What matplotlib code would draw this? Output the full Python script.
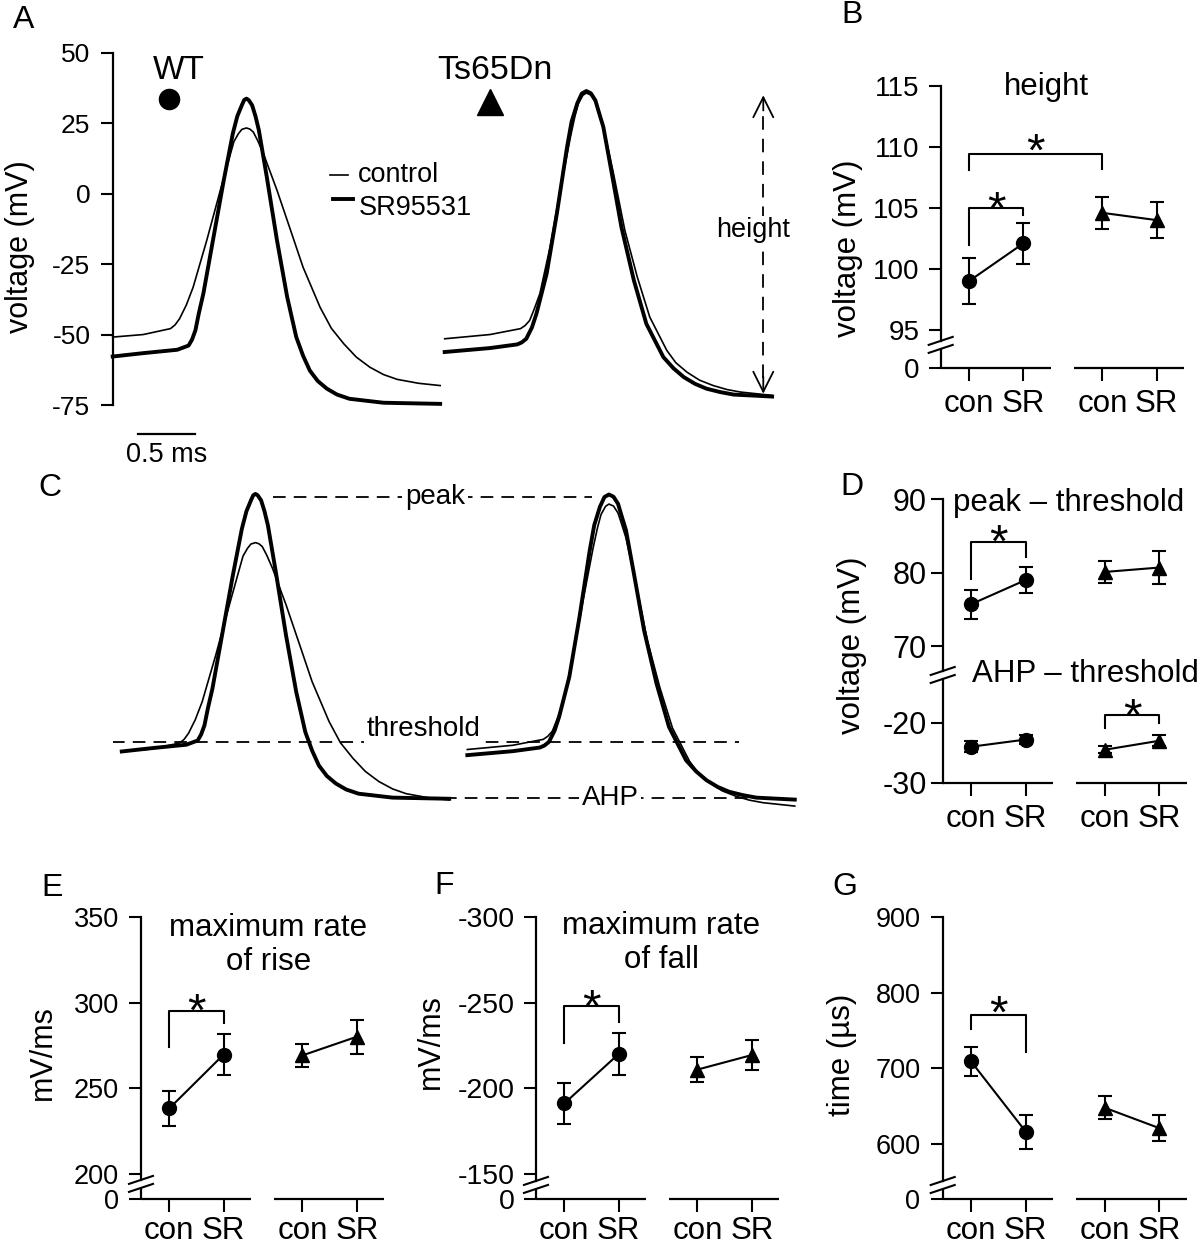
import matplotlib
matplotlib.use("Agg")
import matplotlib.pyplot as plt
from matplotlib.lines import Line2D
from matplotlib.transforms import IdentityTransform

plt.rcParams['font.family'] = ['Liberation Sans', 'DejaVu Sans']

W, H = 1200, 1245

# example action potentials (time in ms, voltage in mV)
wt_con_t = [0.0, 0.27, 0.51, 0.55, 0.59, 0.65, 0.71, 0.83, 0.95, 1.04, 1.07, 1.11, 1.14, 1.18,
            1.21, 1.24, 1.28, 1.33, 1.45, 1.57, 1.68, 1.83, 1.93, 2.04, 2.15, 2.27, 2.39, 2.51,
            2.70, 2.89]
wt_con_v = [-50.9, -50.0, -47.9, -46.6, -44.4, -39.5, -33.2, -16.6, 1.2, 14.2, 18.5, 21.3, 22.8,
            23.3, 22.9, 21.9, 18.8, 14.2, 1.2, -13.0, -26.1, -40.3, -47.8, -53.3, -58.0, -61.6,
            -64.2, -65.9, -67.3, -68.1]
wt_sr_t = [0.0, 0.27, 0.57, 0.67, 0.70, 0.73, 0.76, 0.80, 0.89, 0.98, 1.06, 1.10, 1.14, 1.16,
           1.18, 1.20, 1.23, 1.26, 1.29, 1.36, 1.45, 1.54, 1.62, 1.68, 1.74, 1.81, 1.89, 1.98,
           2.09, 2.39, 2.89]
wt_sr_v = [-57.8, -56.6, -55.4, -53.9, -51.8, -48.5, -42.5, -35.5, -15.4, 4.7, 21.3, 27.5, 31.4,
           33.2, 33.7, 33.2, 31.4, 27.5, 22.5, 5.9, -16.6, -36.7, -50.9, -57.5, -62.8, -66.5,
           -69.2, -71.3, -72.8, -74.2, -74.6]
ts_con_t = [2.93, 3.33, 3.60, 3.64, 3.68, 3.72, 3.77, 3.86, 3.95, 4.04, 4.08, 4.11, 4.15, 4.18,
            4.22, 4.26, 4.29, 4.33, 4.42, 4.52, 4.63, 4.74, 4.89, 4.97, 5.07, 5.18, 5.30, 5.42,
            5.54, 5.82]
ts_con_v = [-51.5, -50.0, -47.9, -46.8, -45.0, -41.0, -35.5, -19.0, 1.2, 20.1, 27.5, 32.0, 34.9,
            35.7, 35.0, 32.5, 28.8, 23.7, 7.1, -13.0, -29.6, -43.8, -55.6, -60.0, -63.4, -66.2,
            -68.1, -69.5, -70.4, -71.6]
ts_sr_t = [2.93, 3.33, 3.57, 3.61, 3.65, 3.70, 3.74, 3.83, 3.92, 4.01, 4.05, 4.10, 4.14, 4.18,
           4.22, 4.26, 4.29, 4.33, 4.40, 4.49, 4.60, 4.71, 4.86, 4.95, 5.04, 5.14, 5.24, 5.36,
           5.48, 5.82]
ts_sr_v = [-56.2, -54.8, -53.5, -52.8, -51.5, -47.5, -42.6, -28.4, -7.1, 16.5, 25.5, 32.0, 35.5,
           36.4, 35.6, 33.1, 29.0, 23.7, 8.3, -11.9, -30.8, -46.2, -58.0, -62.0, -65.1, -67.5,
           -69.2, -70.4, -71.3, -72.0]
# thresholds of the example traces (panel C aligns them here)
thr_wt_con, thr_wt_sr, thr_ts_con, thr_ts_sr = -47.4, -54.3, -48.7, -51.4
shift_wt, shift_ts = 0.08, 0.20   # time shift of the traces in panel C

# group means +/- sem : WT con, WT SR, Ts65Dn con, Ts65Dn SR
cond_labels = ['con', 'SR', 'con', 'SR']
height_mean = [99.0, 102.1, 104.6, 104.0]
height_err = [1.9, 1.7, 1.3, 1.5]
pk_thr_mean = [75.7, 79.0, 80.1, 80.7]
pk_thr_err = [2.0, 1.8, 1.5, 2.3]
ahp_thr_mean = [-24.0, -22.8, -24.5, -23.0]
ahp_thr_err = [0.9, 0.8, 0.6, 0.9]
rise_mean = [238.3, 269.8, 269.3, 280.2]
rise_err = [10.2, 11.9, 6.7, 10.0]
fall_mean = [-191.2, -220.1, -211.0, -219.5]
fall_err = [12.0, 12.0, 7.1, 8.8]
hw_mean = [709.3, 616.5, 648.0, 621.0]
hw_err = [19.5, 22.5, 15.0, 17.0]

xpos = [0, 1, 2.45, 3.45]

fig = plt.figure(figsize=(12, 12.45), dpi=100)


def rect(x0, y0, x1, y1):
    return [x0 / W, 1 - y1 / H, (x1 - x0) / W, (y1 - y0) / H]


def ftext(x, y, s, **kw):
    fig.text(x / W, 1 - y / H, s, ha='center', va='center', **kw)


def summary_axes(r, ylim, yticks, yticklabels, labelsize, pad, xlabels=True, xpad=6):
    ax = fig.add_axes(rect(*r))
    ax.set_xlim(-0.52, 3.95)
    ax.set_ylim(*ylim)
    for s in ('top', 'right', 'bottom'):
        ax.spines[s].set_visible(False)
    ax.spines['left'].set_linewidth(1.6)
    ax.set_yticks(yticks)
    ax.set_yticklabels(yticklabels)
    ax.tick_params(axis='y', length=9, width=1.5, pad=pad, labelsize=labelsize)
    if xlabels:
        ax.set_xticks(xpos)
        ax.set_xticklabels(cond_labels)
        ax.tick_params(axis='x', length=9, width=1.5, pad=xpad, labelsize=22.5)
        for a, b in ((-0.52, 1.5), (1.93, 3.95)):
            ax.plot([a, b], [ylim[0], ylim[0]], color='k', lw=1.6, clip_on=False,
                    solid_capstyle='butt')
    else:
        ax.set_xticks([])
    ax.patch.set_alpha(0)
    return ax


def plot_groups(ax, mean, err):
    for sl, mk in ((slice(0, 2), 'o'), (slice(2, 4), '^')):
        cont = ax.errorbar(xpos[sl], mean[sl], yerr=err[sl], fmt='-' + mk, color='k',
                           ms=10, lw=1.5, elinewidth=1.5, capsize=5, capthick=1.5)
        for art in cont.get_children():
            art.set_clip_on(False)


def bracket(ax, i, j, y, yl, yr, off=-11):
    ax.plot([xpos[i], xpos[i], xpos[j], xpos[j]], [yl, y, y, yr], color='k', lw=1.5,
            clip_on=False)
    ax.annotate('*', xy=((xpos[i] + xpos[j]) / 2, y), xytext=(0, off),
                textcoords='offset points', ha='center', va='baseline', fontsize=34)


def break_marks(cx, cy):
    for dy in (-4, 4):
        fig.add_artist(Line2D([cx - 12, cx + 12], [cy + dy - 4, cy + dy + 4],
                              transform=IdentityTransform(), color='k', lw=1.5))


def axis_break(ax, yc):
    x0, y0 = ax.get_xlim()[0], ax.get_ylim()[0]
    cx, cy = ax.transData.transform((x0, yc))
    inv = ax.transData.inverted()
    y_hi = inv.transform((cx, cy + 4))[1]
    y_lo = inv.transform((cx, cy - 4))[1]
    ax.spines['left'].set_bounds(y_hi, ax.get_ylim()[1])
    ax.plot([x0, x0], [y0, y_lo], color='k', lw=1.6, clip_on=False, solid_capstyle='butt')
    break_marks(cx, cy)


# ---------------- A ----------------
axA = fig.add_axes(rect(112.7, 52.7, 800, 405))
axA.set_xlim(0, 6.066)
axA.set_ylim(-75, 50)
for s in ('top', 'right', 'bottom'):
    axA.spines[s].set_visible(False)
axA.spines['left'].set_linewidth(1.6)
axA.set_xticks([])
axA.set_yticks([-75, -50, -25, 0, 25, 50])
axA.set_yticklabels(['-75', '-50', '-25', '0', '25', '50'])
axA.tick_params(axis='y', length=9, width=1.5, pad=7, labelsize=19)
axA.patch.set_alpha(0)
for t, v, lw in ((wt_con_t, wt_con_v, 1.2), (wt_sr_t, wt_sr_v, 2.8),
                 (ts_con_t, ts_con_v, 1.2), (ts_sr_t, ts_sr_v, 2.8)):
    axA.plot(t, v, color='k', lw=lw, clip_on=False, solid_joinstyle='round')
axA.plot(0.50, 33.5, 'o', color='k', ms=14.5, clip_on=False)
axA.text(0.58, 43.6, 'WT', ha='center', va='center', fontsize=24)
axA.plot(3.33, 32.5, '^', color='k', ms=19, clip_on=False)
axA.text(3.375, 43.6, 'Ts65Dn', ha='center', va='center', fontsize=24.5)
axA.plot([1.918, 2.077], [6.5, 6.5], color='k', lw=1.2)
axA.plot([1.945, 2.12], [-2.0, -2.0], color='k', lw=2.8)
axA.text(2.168, 6.5, 'control', ha='left', va='center', fontsize=19.5)
axA.text(2.168, -5.2, 'SR95531', ha='left', va='center', fontsize=19.5)
axA.plot([0.226, 0.726], [-85.3, -85.3], color='k', lw=1.6, clip_on=False)
axA.text(0.476, -92.8, '0.5 ms', ha='center', va='center', fontsize=19.5)
axA.plot([5.742, 5.742], [-65.5, 30.5], color='k', lw=1.3, dashes=(7.5, 5))
axA.annotate('', xy=(5.742, 34.9), xytext=(5.742, 29.5),
             arrowprops=dict(arrowstyle='->', lw=1.3, mutation_scale=36, color='k',
                             shrinkA=0, shrinkB=0))
axA.annotate('', xy=(5.742, -71.0), xytext=(5.742, -65.0),
             arrowprops=dict(arrowstyle='->', lw=1.3, mutation_scale=36, color='k',
                             shrinkA=0, shrinkB=0))
axA.text(5.651, -13.0, 'height', ha='center', va='center', fontsize=19.5,
         bbox=dict(facecolor='white', edgecolor='none', pad=1))

# ---------------- C ----------------
axC = fig.add_axes(rect(112.7, 470, 800, 830))
axC.set_xlim(0, 6.066)
axC.set_ylim(-31.4, 96.5)
axC.axis('off')
dash = dict(color='k', lw=1.3, dashes=(7, 4.5))
axC.plot([1.415, 4.23], [87.0, 87.0], **dash)
axC.plot([-0.01, 5.524], [0, 0], **dash)
axC.plot([2.921, 5.872], [-20.1, -20.1], **dash)
for t, v, thr, sh, lw in ((wt_con_t, wt_con_v, thr_wt_con, shift_wt, 1.2),
                          (wt_sr_t, wt_sr_v, thr_wt_sr, shift_wt, 2.8),
                          (ts_con_t, ts_con_v, thr_ts_con, shift_ts, 1.2),
                          (ts_sr_t, ts_sr_v, thr_ts_sr, shift_ts, 2.8)):
    axC.plot([x + sh for x in t], [y - thr for y in v], color='k', lw=lw, clip_on=False,
             solid_joinstyle='round')
wb = dict(facecolor='white', edgecolor='none', pad=2)
axC.text(2.843, 87.0, 'peak', ha='center', va='center', fontsize=20, bbox=wb)
axC.text(2.745, 4.6, 'threshold', ha='center', va='center', fontsize=20, bbox=wb)
axC.text(4.389, -20.1, 'AHP', ha='center', va='center', fontsize=20, bbox=wb)

# ---------------- B ----------------
axB = summary_axes((940.7, 86, 1184, 367.7), (91.9, 115), [91.9, 95, 100, 105, 110, 115],
                   ['0', '95', '100', '105', '110', '115'], 20, 6)
plot_groups(axB, height_mean, height_err)
bracket(axB, 0, 1, 105.0, 102.0, 104.45)
bracket(axB, 0, 2, 109.4, 108.1, 108.2, off=-8)
axis_break(axB, 93.77)

# ---------------- D ----------------
axD1 = summary_axes((942.7, 499.3, 1186.7, 671), (66.6, 90), [70, 80, 90],
                    ['70', '80', '90'], 22, 2.5, xlabels=False)
plot_groups(axD1, pk_thr_mean, pk_thr_err)
bracket(axD1, 0, 1, 84.2, 79.1, 82.2)
axD2 = summary_axes((942.7, 679, 1186.7, 782.7), (-30, -12.7), [-30, -20],
                    ['-30', '-20'], 22, 2.5)
plot_groups(axD2, ahp_thr_mean, ahp_thr_err)
bracket(axD2, 2, 3, -18.7, -20.8, -20.1)
bx = axD1.transAxes.transform((0, 0))
by = axD2.transAxes.transform((0, 1))
break_marks(bx[0], (bx[1] + by[1]) / 2)

# ---------------- E ----------------
axE = summary_axes((141, 917.3, 384, 1199.3), (185.2, 350), [185.2, 200, 250, 300, 350],
                   ['0', '200', '250', '300', '350'], 19.5, 7, xpad=3)
plot_groups(axE, rise_mean, rise_err)
bracket(axE, 0, 1, 295.3, 274.3, 288.0)
axis_break(axE, 194.2)

# ---------------- F ----------------
axF = summary_axes((536, 917.3, 779, 1199.3), (-135.2, -300),
                   [-135.2, -150, -200, -250, -300], ['0', '-150', '-200', '-250', '-300'],
                   20.5, 6, xpad=3)
plot_groups(axF, fall_mean, fall_err)
bracket(axF, 0, 1, -248.0, -226.3, -238.9)
axis_break(axF, -143.6)

# ---------------- G ----------------
axG = summary_axes((942.7, 917.3, 1186.7, 1199.3), (526.9, 900),
                   [526.9, 600, 700, 800, 900], ['0', '600', '700', '800', '900'], 19.5, 7,
                   xpad=3)
plot_groups(axG, hw_mean, hw_err)
bracket(axG, 0, 1, 770.5, 752.0, 721.2, off=-9)
axis_break(axG, 545.8)

# titles, axis labels, panel letters
ftext(1046.7, 87, 'height', fontsize=22.5)
ftext(1068.3, 503.3, 'peak \u2013 threshold', fontsize=22.5)
ftext(1085, 674, 'AHP \u2013 threshold', fontsize=22.5,
      bbox=dict(facecolor='white', edgecolor='none', pad=0))
ftext(268.3, 945, 'maximum rate\nof rise', fontsize=22.5, linespacing=1.17)
ftext(661, 943.3, 'maximum rate\nof fall', fontsize=22.5, linespacing=1.17)

ftext(20, 246.7, 'voltage (mV)', fontsize=22, rotation=90)
ftext(848.3, 248.5, 'voltage (mV)', fontsize=22.5, rotation=90)
ftext(851.7, 645, 'voltage (mV)', fontsize=22.5, rotation=90)
ftext(43.3, 1053, 'mV/ms', fontsize=22, rotation=90)
ftext(430.8, 1041.7, 'mV/ms', fontsize=22, rotation=90)
ftext(842.5, 1055, 'time (\u00b5s)', fontsize=22.5, rotation=90)

for letter, x, y in (('A', 24, 20), ('B', 852.5, 15), ('C', 50, 488), ('D', 852, 487),
                     ('E', 51.7, 888), ('F', 444, 886), ('G', 845, 886.7)):
    ftext(x, y, letter, fontsize=23)

fig.savefig('out.png', dpi=100)
